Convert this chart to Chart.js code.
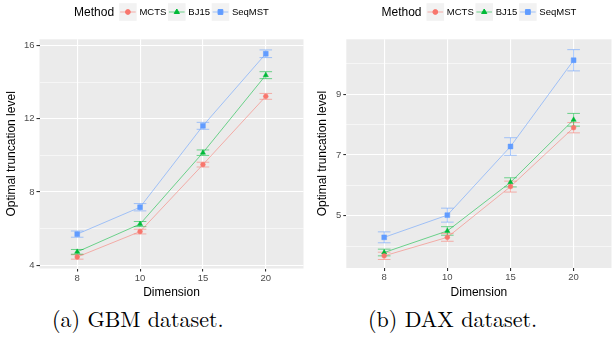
<!DOCTYPE html>
<html>
<head>
<meta charset="utf-8">
<script src="https://cdn.jsdelivr.net/npm/chart.js@4.4.0/dist/chart.umd.min.js"></script>
<style>
  html, body { margin: 0; padding: 0; background: #fff; }
  body { width: 616px; height: 343px; position: relative; overflow: hidden; }
  .panel { position: absolute; top: 0; width: 308px; height: 300px; }
  .caption {
    position: absolute; top: 305px; line-height: 26px; white-space: nowrap;
    font-family: "Latin Modern Roman", "CMU Serif", "Liberation Serif", serif;
    font-size: 22px; color: #000;
  }
</style>
</head>
<body>
<div class="panel" style="left:0"><canvas id="gbm" width="308" height="300"></canvas></div>
<div class="panel" style="left:308px"><canvas id="dax" width="308" height="300"></canvas></div>
<div class="caption" style="left:52px">(a) GBM dataset.</div>
<div class="caption" style="left:368px">(b) DAX dataset.</div>
<script>
// x categories and legend entries
const dimensions = ['8', '10', '15', '20'];
const methods = ['MCTS', 'BJ15', 'SeqMST'];

// GBM dataset: mean optimal truncation level and half-width of error bar
const gbmMCTS = [4.45, 5.84, 9.50, 13.23];
const gbmMCTSErr = [0.12, 0.13, 0.13, 0.16];
const gbmBJ15 = [4.73, 6.25, 10.15, 14.39];
const gbmBJ15Err = [0.13, 0.14, 0.15, 0.19];
const gbmSeqMST = [5.70, 7.17, 11.62, 15.56];
const gbmSeqMSTErr = [0.17, 0.20, 0.19, 0.21];

// DAX dataset
const daxMCTS = [3.68, 4.29, 5.96, 7.90];
const daxMCTSErr = [0.12, 0.13, 0.18, 0.17];
const daxBJ15 = [3.79, 4.50, 6.10, 8.16];
const daxBJ15Err = [0.11, 0.14, 0.15, 0.21];
const daxSeqMST = [4.29, 5.02, 7.28, 10.12];
const daxSeqMSTErr = [0.18, 0.23, 0.29, 0.35];

// y axis ticks (labelled) and gridlines (labelled + minor)
const gbmTicks = [4, 8, 12, 16];
const gbmGrid = [4, 6, 8, 10, 12, 14, 16];
const daxTicks = [5, 7, 9];
const daxGrid = [4, 5, 6, 7, 8, 9, 10];

const FONT = '"Liberation Sans", Arial, Helvetica, sans-serif';
const colors = ['#F8766D', '#00BA38', '#619CFF'];
const fades = ['rgba(248,118,109,0.55)', 'rgba(0,186,56,0.55)', 'rgba(97,156,255,0.55)'];
const shapes = [
  { pointStyle: 'circle', radius: 2.4 },
  { pointStyle: 'triangle', radius: 3.0 },
  { pointStyle: 'rect', radius: 3.4 },
];

const panelBg = {
  id: 'panelBg',
  beforeDraw(chart) {
    const { ctx, chartArea: a } = chart;
    ctx.save();
    ctx.fillStyle = '#EBEBEB';
    ctx.fillRect(a.left, a.top, a.right - a.left, a.bottom - a.top);
    ctx.restore();
  },
};

const errorBars = {
  id: 'errorBars',
  beforeDatasetsDraw(chart) {
    const { ctx } = chart;
    const xs = chart.scales.x, ys = chart.scales.y;
    ctx.save();
    ctx.lineWidth = 1;
    chart.data.datasets.forEach(ds => {
      ctx.strokeStyle = ds.borderColor;
      ds.data.forEach((p, i) => {
        const x = xs.getPixelForValue(p.x);
        const half = xs.getPixelForValue(p.x + 0.1) - x;
        const top = ys.getPixelForValue(p.y + ds.err[i]);
        const bot = ys.getPixelForValue(p.y - ds.err[i]);
        ctx.beginPath();
        ctx.moveTo(x, top); ctx.lineTo(x, bot);
        ctx.moveTo(x - half, top); ctx.lineTo(x + half, top);
        ctx.moveTo(x - half, bot); ctx.lineTo(x + half, bot);
        ctx.stroke();
      });
    });
    ctx.restore();
  },
};

const ggLegend = {
  id: 'ggLegend',
  afterDraw(chart) {
    const { ctx, chartArea: a } = chart;
    const key = 17.6, cy = 12;
    ctx.save();
    ctx.textBaseline = 'middle';
    ctx.font = '12px ' + FONT;
    const titleW = ctx.measureText('Method').width;
    ctx.font = '9.5px ' + FONT;
    const widths = chart.data.datasets.map(ds => ctx.measureText(ds.label).width);
    let total = titleW + 5;
    widths.forEach(w => { total += key + 2.7 + w + 1.7; });
    total -= 1.7;
    let x = (a.left + a.right) / 2 - total / 2;
    ctx.fillStyle = '#000';
    ctx.font = '12px ' + FONT;
    ctx.fillText('Method', x, cy + 0.5);
    x += titleW + 5;
    ctx.font = '9.5px ' + FONT;
    chart.data.datasets.forEach((ds, i) => {
      ctx.fillStyle = '#F2F2F2';
      ctx.fillRect(x, cy - key / 2, key, key);
      ctx.strokeStyle = ds.borderColor;
      ctx.lineWidth = 1;
      ctx.beginPath();
      ctx.moveTo(x + 1, cy); ctx.lineTo(x + key - 1, cy);
      ctx.stroke();
      ctx.fillStyle = ds.pointBackgroundColor;
      ctx.strokeStyle = ds.pointBackgroundColor;
      Chart.helpers.drawPoint(ctx, { pointStyle: ds.pointStyle, radius: ds.pointRadius, borderWidth: 0.5, rotation: 0 }, x + key / 2, cy);
      x += key + 2.7;
      ctx.fillStyle = '#000';
      ctx.fillText(ds.label, x, cy + 0.5);
      x += widths[i] + 1.7;
    });
    ctx.restore();
  },
};

function makePanel(id, series, errs, yMin, yMax, ticks, grid, geo) {
  const datasets = series.map((vals, k) => ({
    label: methods[k],
    data: vals.map((v, i) => ({ x: i + 1, y: v })),
    err: errs[k],
    borderColor: fades[k],
    borderWidth: 1,
    pointBackgroundColor: colors[k],
    pointBorderColor: colors[k],
    pointBorderWidth: 0.5,
    pointStyle: shapes[k].pointStyle,
    pointRadius: shapes[k].radius,
    tension: 0,
  }));

  new Chart(document.getElementById(id), {
    type: 'line',
    data: { datasets },
    plugins: [panelBg, errorBars, ggLegend],
    options: {
      responsive: false,
      animation: false,
      layout: { padding: { top: 39.3, left: 0, right: geo.right, bottom: 0 } },
      plugins: { legend: { display: false }, tooltip: { enabled: false } },
      scales: {
        x: {
          type: 'linear',
          min: 0.4,
          max: 4.6,
          afterBuildTicks: s => { s.ticks = dimensions.map((d, i) => ({ value: i + 1 })); },
          afterFit: s => { s.height = geo.xHeight; },
          border: { display: false },
          grid: { color: '#FFFFFF', lineWidth: 1.1, tickColor: '#333333', tickLength: 3 },
          ticks: {
            callback: v => dimensions[v - 1],
            color: '#4D4D4D',
            font: { family: FONT, size: 9.5 },
            padding: 1,
            maxRotation: 0,
            autoSkip: false,
          },
          title: {
            display: true,
            text: 'Dimension',
            color: '#000',
            font: { family: FONT, size: 12 },
            padding: { top: 0, bottom: 0.3 },
          },
        },
        y: {
          min: yMin,
          max: yMax,
          afterBuildTicks: s => { s.ticks = grid.map(v => ({ value: v })); },
          afterFit: s => { s.width = geo.yWidth; },
          border: { display: false },
          grid: {
            color: '#FFFFFF',
            lineWidth: c => (ticks.includes(c.tick.value) ? 1.1 : 0.55),
            tickColor: c => (ticks.includes(c.tick.value) ? '#333333' : 'rgba(0,0,0,0)'),
            tickLength: 3,
          },
          ticks: {
            callback: v => (ticks.includes(v) ? String(v) : ''),
            color: '#4D4D4D',
            font: { family: FONT, size: 9.5 },
            padding: 2,
            autoSkip: false,
          },
          title: {
            display: true,
            text: 'Optimal truncation level',
            color: '#000',
            font: { family: FONT, size: 12 },
            padding: { top: geo.titlePad, bottom: 0 },
          },
        },
      },
    },
  });
}

makePanel('gbm',
  [gbmMCTS, gbmBJ15, gbmSeqMST],
  [gbmMCTSErr, gbmBJ15Err, gbmSeqMSTErr],
  3.82, 16.35, gbmTicks, gbmGrid,
  { right: 1, yWidth: 39.5, xHeight: 31.5, titlePad: 4.8 });

makePanel('dax',
  [daxMCTS, daxBJ15, daxSeqMST],
  [daxMCTSErr, daxBJ15Err, daxSeqMSTErr],
  3.28, 10.81, daxTicks, daxGrid,
  { right: 0, yWidth: 38.3, xHeight: 32, titlePad: 7.8 });
</script>
</body>
</html>
